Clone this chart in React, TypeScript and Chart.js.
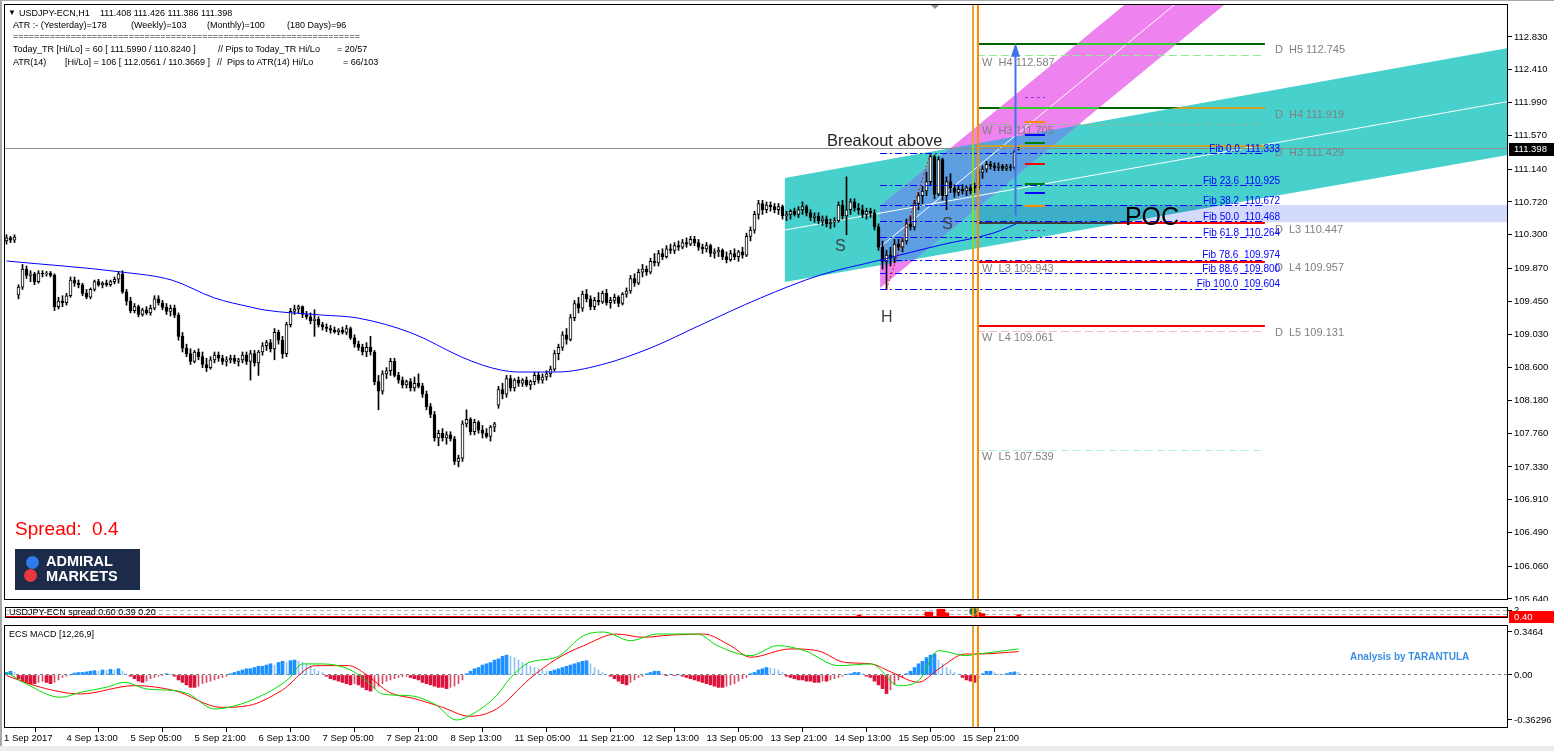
import React, { useEffect, useRef } from "react";
import { Chart, registerables } from "chart.js";

Chart.register(...registerables);

const FONT = "'Liberation Sans', Arial, Helvetica, sans-serif";
Chart.defaults.font.family = FONT;

/* ================= data ================= */
const X_LABELS = ["1 Sep 2017", "4 Sep 13:00", "5 Sep 05:00", "5 Sep 21:00", "6 Sep 13:00", "7 Sep 05:00", "7 Sep 21:00", "8 Sep 13:00", "11 Sep 05:00", "11 Sep 21:00", "12 Sep 13:00", "13 Sep 05:00", "13 Sep 21:00", "14 Sep 13:00", "15 Sep 05:00", "15 Sep 21:00"];
const X_TICK_BARS = [-0.625, 15, 31, 47, 63, 79, 95, 111, 127, 143, 159, 175, 191, 207, 223, 239];
const PRICE_TICKS = [112.83, 112.41, 111.99, 111.57, 111.14, 110.72, 110.3, 109.87, 109.45, 109.03, 108.6, 108.18, 107.76, 107.33, 106.91, 106.49, 106.06, 105.64];

const OPEN = [
  110.22, 110.26, 110.23, 109.53, 109.63, 109.86, 109.78, 109.80, 109.70, 109.81,
  109.80, 109.81, 109.78, 109.38, 109.45, 109.43, 109.52, 109.72, 109.68, 109.66,
  109.55, 109.50, 109.60, 109.70, 109.66, 109.68, 109.66, 109.70, 109.73, 109.80,
  109.57, 109.45, 109.33, 109.38, 109.28, 109.34, 109.30, 109.36, 109.48, 109.43,
  109.37, 109.32, 109.36, 109.27, 109.00, 108.85, 108.78, 108.68, 108.80, 108.74,
  108.64, 108.60, 108.70, 108.76, 108.72, 108.68, 108.70, 108.72, 108.68, 108.70,
  108.76, 108.68, 108.78, 108.66, 108.80, 108.88, 108.92, 108.84, 109.05, 108.95,
  108.78, 109.15, 109.32, 109.35, 109.38, 109.28, 109.25, 109.20, 109.22, 109.15,
  109.12, 109.10, 109.08, 109.06, 109.08, 109.05, 109.10, 108.98, 108.90, 108.86,
  108.80, 108.86, 108.80, 108.42, 108.30, 108.52, 108.56, 108.68, 108.50, 108.44,
  108.38, 108.42, 108.34, 108.40, 108.36, 108.26, 108.10, 108.00, 107.70, 107.76,
  107.70, 107.74, 107.69, 107.40, 107.44, 107.88, 107.94, 107.78, 107.90, 107.80,
  107.76, 107.72, 107.84, 108.12, 108.32, 108.26, 108.46, 108.34, 108.44, 108.40,
  108.44, 108.38, 108.42, 108.50, 108.44, 108.48, 108.52, 108.58, 108.78, 108.86,
  109.02, 108.96, 109.24, 109.42, 109.36, 109.54, 109.48, 109.38, 109.46, 109.44,
  109.55, 109.43, 109.46, 109.50, 109.42, 109.54, 109.58, 109.74, 109.68, 109.82,
  109.86, 109.82, 109.96, 109.94, 110.06, 110.02, 110.12, 110.10, 110.16, 110.14,
  110.20, 110.18, 110.24, 110.20, 110.14, 110.12, 110.16, 110.06, 110.08, 110.10,
  110.02, 109.98, 110.06, 110.02, 110.08, 110.04, 110.28, 110.36, 110.56, 110.70,
  110.62, 110.68, 110.66, 110.62, 110.66, 110.54, 110.56, 110.60, 110.56, 110.62,
  110.66, 110.58, 110.52, 110.54, 110.48, 110.50, 110.44, 110.46, 110.48, 110.68,
  110.54, 110.62, 110.72, 110.64, 110.62, 110.56, 110.60, 110.58, 110.40, 110.14,
  109.96, 110.04, 110.00, 110.18, 110.14, 110.22, 110.44, 110.40, 110.70, 110.80,
  110.86, 110.98, 111.30, 110.82, 111.26, 110.80, 110.98, 110.90, 110.84, 110.88,
  110.86, 110.90, 110.92, 110.90, 111.10, 111.14, 111.20, 111.18, 111.16, 111.18,
  111.15, 111.17, 111.16, 111.408,
];
const HIGH = [
  110.30, 110.28, 110.30, 109.66, 109.92, 109.90, 109.84, 109.82, 109.84, 109.84,
  109.83, 109.83, 109.80, 109.50, 109.52, 109.55, 109.76, 109.76, 109.72, 109.68,
  109.60, 109.62, 109.72, 109.73, 109.70, 109.72, 109.72, 109.76, 109.83, 109.84,
  109.60, 109.50, 109.42, 109.40, 109.36, 109.38, 109.40, 109.52, 109.52, 109.46,
  109.42, 109.40, 109.40, 109.30, 109.05, 108.90, 108.84, 108.82, 108.84, 108.80,
  108.72, 108.74, 108.80, 108.80, 108.76, 108.74, 108.76, 108.76, 108.72, 108.80,
  108.80, 108.82, 108.82, 108.82, 108.92, 108.95, 108.96, 109.10, 109.08, 109.00,
  109.18, 109.36, 109.40, 109.40, 109.39, 109.32, 109.30, 109.34, 109.25, 109.18,
  109.16, 109.14, 109.12, 109.10, 109.12, 109.14, 109.12, 109.02, 108.94, 108.90,
  108.92, 109.00, 108.82, 108.50, 108.56, 108.60, 108.72, 108.72, 108.54, 108.48,
  108.44, 108.46, 108.48, 108.52, 108.40, 108.30, 108.14, 108.04, 107.80, 107.82,
  107.78, 107.78, 107.72, 107.48, 107.92, 108.06, 107.96, 107.94, 107.92, 107.86,
  107.82, 107.86, 107.90, 108.36, 108.40, 108.50, 108.50, 108.46, 108.48, 108.46,
  108.48, 108.44, 108.54, 108.54, 108.52, 108.56, 108.62, 108.82, 108.90, 109.06,
  109.10, 109.28, 109.46, 109.50, 109.58, 109.60, 109.52, 109.50, 109.56, 109.58,
  109.60, 109.50, 109.54, 109.52, 109.56, 109.62, 109.78, 109.80, 109.86, 109.92,
  109.90, 110.00, 110.06, 110.10, 110.12, 110.16, 110.18, 110.20, 110.22, 110.24,
  110.26, 110.28, 110.28, 110.24, 110.18, 110.20, 110.18, 110.12, 110.14, 110.12,
  110.08, 110.10, 110.12, 110.10, 110.14, 110.32, 110.40, 110.60, 110.74, 110.74,
  110.72, 110.72, 110.70, 110.70, 110.68, 110.60, 110.62, 110.64, 110.66, 110.72,
  110.68, 110.62, 110.58, 110.58, 110.54, 110.54, 110.50, 110.52, 110.72, 110.74,
  111.04, 110.76, 110.76, 110.70, 110.68, 110.64, 110.64, 110.62, 110.44, 110.22,
  110.10, 110.14, 110.24, 110.24, 110.26, 110.50, 110.54, 110.74, 110.84, 110.92,
  111.10, 111.33, 111.32, 111.30, 111.28, 111.04, 111.08, 110.94, 110.92, 110.94,
  110.92, 110.94, 110.96, 111.14, 111.18, 111.24, 111.24, 111.22, 111.22, 111.20,
  111.20, 111.20, 111.38, 111.426,
];
const LOW = [
  110.18, 110.20, 110.20, 109.48, 109.60, 109.74, 109.70, 109.66, 109.68, 109.76,
  109.77, 109.76, 109.33, 109.35, 109.38, 109.40, 109.50, 109.64, 109.62, 109.52,
  109.48, 109.48, 109.58, 109.64, 109.62, 109.64, 109.64, 109.67, 109.68, 109.55,
  109.40, 109.30, 109.30, 109.25, 109.26, 109.28, 109.27, 109.34, 109.40, 109.34,
  109.28, 109.26, 109.24, 108.95, 108.80, 108.74, 108.64, 108.66, 108.70, 108.60,
  108.55, 108.58, 108.66, 108.68, 108.64, 108.62, 108.66, 108.65, 108.62, 108.66,
  108.64, 108.44, 108.62, 108.50, 108.76, 108.82, 108.80, 108.70, 108.90, 108.72,
  108.74, 109.12, 109.28, 109.30, 109.24, 109.22, 109.16, 109.00, 109.12, 109.08,
  109.06, 109.04, 109.04, 109.02, 109.03, 109.02, 108.96, 108.86, 108.82, 108.76,
  108.74, 108.76, 108.38, 108.06, 108.26, 108.46, 108.50, 108.48, 108.40, 108.34,
  108.34, 108.30, 108.30, 108.34, 108.22, 108.06, 107.96, 107.66, 107.60, 107.66,
  107.62, 107.66, 107.36, 107.33, 107.40, 107.84, 107.74, 107.74, 107.76, 107.70,
  107.70, 107.66, 107.78, 108.08, 108.20, 108.22, 108.30, 108.30, 108.36, 108.36,
  108.36, 108.32, 108.38, 108.40, 108.40, 108.44, 108.48, 108.56, 108.70, 108.82,
  108.90, 108.94, 109.20, 109.30, 109.32, 109.44, 109.34, 109.34, 109.40, 109.42,
  109.40, 109.36, 109.42, 109.38, 109.40, 109.50, 109.55, 109.64, 109.66, 109.76,
  109.78, 109.80, 109.90, 109.90, 109.98, 110.00, 110.06, 110.06, 110.10, 110.12,
  110.14, 110.16, 110.16, 110.10, 110.06, 110.08, 110.02, 110.00, 110.02, 109.98,
  109.94, 109.96, 109.98, 109.96, 110.00, 110.02, 110.22, 110.32, 110.50, 110.56,
  110.58, 110.60, 110.58, 110.56, 110.50, 110.48, 110.50, 110.54, 110.52, 110.56,
  110.54, 110.48, 110.46, 110.44, 110.42, 110.40, 110.38, 110.40, 110.46, 110.50,
  110.30, 110.56, 110.60, 110.56, 110.52, 110.50, 110.52, 110.36, 110.10, 109.86,
  109.60, 109.90, 109.94, 110.10, 110.08, 110.18, 110.36, 110.36, 110.62, 110.70,
  110.80, 110.94, 110.76, 110.80, 110.74, 110.62, 110.84, 110.78, 110.80, 110.82,
  110.80, 110.82, 110.84, 110.88, 111.02, 111.10, 111.14, 111.12, 111.12, 111.12,
  111.12, 111.12, 111.14, 111.386,
];
const CLOSE = [
  110.26, 110.23, 110.27, 109.63, 109.86, 109.78, 109.80, 109.70, 109.81, 109.80,
  109.81, 109.78, 109.38, 109.45, 109.43, 109.52, 109.72, 109.68, 109.66, 109.55,
  109.50, 109.60, 109.70, 109.66, 109.68, 109.66, 109.70, 109.73, 109.80, 109.57,
  109.45, 109.33, 109.38, 109.28, 109.34, 109.30, 109.36, 109.48, 109.43, 109.37,
  109.32, 109.36, 109.27, 109.00, 108.85, 108.78, 108.68, 108.80, 108.74, 108.64,
  108.60, 108.70, 108.76, 108.72, 108.68, 108.70, 108.72, 108.68, 108.70, 108.76,
  108.68, 108.78, 108.66, 108.80, 108.88, 108.92, 108.84, 109.05, 108.95, 108.78,
  109.15, 109.32, 109.35, 109.38, 109.28, 109.25, 109.20, 109.22, 109.15, 109.12,
  109.10, 109.08, 109.06, 109.08, 109.05, 109.10, 108.98, 108.90, 108.86, 108.80,
  108.86, 108.80, 108.42, 108.30, 108.52, 108.56, 108.68, 108.50, 108.44, 108.38,
  108.42, 108.34, 108.40, 108.36, 108.26, 108.10, 108.00, 107.70, 107.76, 107.70,
  107.74, 107.69, 107.40, 107.44, 107.88, 107.94, 107.78, 107.90, 107.80, 107.76,
  107.72, 107.84, 107.88, 108.32, 108.26, 108.46, 108.34, 108.44, 108.40, 108.44,
  108.38, 108.42, 108.50, 108.44, 108.48, 108.52, 108.58, 108.78, 108.86, 109.02,
  108.96, 109.24, 109.42, 109.36, 109.54, 109.48, 109.38, 109.46, 109.44, 109.55,
  109.43, 109.46, 109.50, 109.42, 109.54, 109.58, 109.74, 109.68, 109.82, 109.86,
  109.82, 109.96, 109.94, 110.06, 110.02, 110.12, 110.10, 110.16, 110.14, 110.20,
  110.18, 110.24, 110.20, 110.14, 110.12, 110.16, 110.06, 110.08, 110.10, 110.02,
  109.98, 110.06, 110.02, 110.08, 110.04, 110.28, 110.36, 110.56, 110.70, 110.62,
  110.68, 110.66, 110.62, 110.66, 110.54, 110.56, 110.60, 110.56, 110.62, 110.66,
  110.58, 110.52, 110.54, 110.48, 110.50, 110.44, 110.46, 110.48, 110.68, 110.54,
  110.62, 110.72, 110.64, 110.62, 110.56, 110.60, 110.58, 110.40, 110.14, 109.96,
  110.04, 110.00, 110.18, 110.14, 110.22, 110.44, 110.40, 110.70, 110.80, 110.86,
  110.98, 111.30, 110.82, 111.26, 110.80, 110.98, 110.90, 110.84, 110.88, 110.86,
  110.90, 110.86, 110.90, 111.10, 111.14, 111.20, 111.18, 111.16, 111.18, 111.15,
  111.17, 111.16, 111.36, 111.398,
];

// moving average (blue), read at bar positions
const MA_X = [0, 28.75, 41.25, 52, 61, 64.5, 78.75, 87.75, 101.25, 113.75, 118.9, 123.5, 128, 137.75, 148.5, 161, 173.5, 188.5, 203.5, 218.5, 233.5, 246.75, 253.5];
const MA_Y = [109.964, 109.823, 109.721, 109.491, 109.375, 109.337, 109.273, 109.235, 109.043, 108.736, 108.634, 108.570, 108.544, 108.544, 108.634, 108.851, 109.145, 109.491, 109.785, 109.977, 110.169, 110.322, 110.463];

// channels (bar index, price)
const CYAN_I = [194.6, 375.4];
const CYAN_TOP = [111.026, 112.689];
const CYAN_BOT = [109.695, 111.32];
const MAG_I = [218.4, 375.4];
const MAG_LOW = [109.619, 116.23];
const MAG_UP = [110.668, 117.28];
const POC_I = 242.6;
const POC_P = [110.46, 110.68];

// pivot levels
const PIVOT_NAMES = ["W  H4", "W  H3", "W  L3", "W  L4", "W  L5", "D  H5", "D  H4", "D  H3", "D  L3", "D  L4", "D  L5"];
const PIVOT_VALUES = [112.587, 111.705, 109.943, 109.061, 107.539, 112.745, 111.919, 111.429, 110.447, 109.957, 109.131];
const PIVOT_SPAN = [242.6, 314.6];

// fibonacci
const FIB_LEVELS = ["0.0", "23.6", "38.2", "50.0", "61.8", "78.6", "88.6", "100.0"];
const FIB_PRICES = [111.333, 110.925, 110.672, 110.468, 110.264, 109.974, 109.8, 109.604];
const FIB_SPAN = [218.4, 314.6];
const FIB_ANCHOR_I = [220, 231];
const FIB_ANCHOR_P = [109.604, 111.333];

// short level markers
const SHORT_P = [112.05, 111.74, 111.58, 111.47, 111.21, 110.95, 110.83, 110.67, 110.36];
const SHORT_SPAN = [254.6, 259.6];

const ARROW_I = 252.1;
const ARROW_P = [110.55, 112.73];

const NOTE_TEXT = ["Breakout above", "S", "S", "H", "POC"];
const NOTE_I = [205.1, 207.1, 233.9, 218.6, 279.6];
const NOTE_P = [111.435, 110.092, 110.374, 109.184, 110.425];

const VLINES = [241.6, 242.9];

// spread window
const SPREAD_X = [213, 230, 231, 233, 234, 235, 242, 243, 244, 253];
const SPREAD_V = [0.8, 1.6, 1.6, 2.4, 2.4, 1.4, 1.5, 1.5, 1.2, 0.9];
const SPREAD_LEVELS = [2, 1];
const SPREAD_NOW = 0.4;
const SPREAD_DOT = [241.6, 1.8];

// MACD window
const HIST = [
  0.02, 0.03, 0.02, -0.03, -0.05, -0.06, -0.07, -0.07, -0.06, -0.05,
  -0.06, -0.07, -0.06, -0.04, -0.02, -0.01, 0, 0.015, 0.02, 0.02,
  0.025, 0.03, 0.035, 0.03, 0.04, 0.035, 0.045, 0.04, 0.05, 0.03,
  0.01, -0.01, -0.03, -0.05, -0.06, -0.05, -0.03, -0.02, -0.01, -0.005,
  0.01, 0.005, -0.01, -0.04, -0.06, -0.08, -0.1, -0.1, -0.09, -0.07,
  -0.06, -0.05, -0.04, -0.03, -0.02, -0.01, 0.01, 0.02, 0.03, 0.04,
  0.05, 0.05, 0.06, 0.07, 0.07, 0.08, 0.09, 0.08, 0.1, 0.11,
  0.1, 0.115, 0.12, 0.11, 0.1, 0.09, 0.07, 0.05, 0.03, 0.02,
  -0.01, -0.03, -0.04, -0.05, -0.06, -0.07, -0.08, -0.07, -0.08, -0.1,
  -0.12, -0.13, -0.11, -0.09, -0.07, -0.05, -0.04, -0.03, -0.02, -0.015,
  -0.01, -0.02, -0.03, -0.04, -0.06, -0.07, -0.08, -0.09, -0.1, -0.1,
  -0.11, -0.1, -0.09, -0.07, -0.04, 0.01, 0.03, 0.05, 0.06, 0.08,
  0.09, 0.1, 0.12, 0.13, 0.15, 0.16, 0.15, 0.14, 0.12, 0.1,
  0.09, 0.07, 0.06, 0.05, 0.04, 0.03, 0.03, 0.04, 0.05, 0.06,
  0.07, 0.08, 0.09, 0.1, 0.11, 0.115, 0.09, 0.06, 0.04, 0.02,
  0.005, -0.01, -0.03, -0.05, -0.07, -0.08, -0.06, -0.04, -0.02, -0.01,
  0.01, 0.02, 0.03, 0.03, 0.01, -0.005, 0.005, -0.005, 0, -0.01,
  -0.02, -0.03, -0.04, -0.05, -0.06, -0.07, -0.08, -0.09, -0.1, -0.1,
  -0.09, -0.08, -0.07, -0.05, -0.03, -0.02, 0.01, 0.02, 0.04, 0.05,
  0.06, 0.055, 0.05, 0.04, 0.02, -0.01, -0.02, -0.03, -0.04, -0.04,
  -0.05, -0.05, -0.06, -0.06, -0.05, -0.05, -0.04, -0.03, -0.02, -0.01,
  0.005, 0.01, 0.02, 0.02, 0.01, -0.01, -0.02, -0.05, -0.08, -0.11,
  -0.15, -0.12, -0.08, -0.04, -0.02, 0.01, 0.03, 0.06, 0.09, 0.11,
  0.14, 0.16, 0.17, 0.12, 0.09, 0.06, 0.04, 0.02, 0.01, -0.02,
  -0.04, -0.05, -0.06, -0.03, 0.01, 0.03, 0.03, 0.02, 0.01, 0.005,
  0.01, 0.02, 0.025, 0.02,
];
const MACD_X = [0, 5, 13.5, 18.5, 25, 29.5, 35, 42, 45.5, 52, 55.5, 62, 70.5, 74, 79, 85.5, 90, 94, 100.75, 107, 112.5, 115.75, 122.5, 125.75, 130.75, 137.5, 144.25, 149.25, 156, 162.75, 172.75, 177.75, 186, 192.75, 199.5, 208, 216.25, 223, 228, 233, 239.75, 243, 253];
const MACD_V = [0.022, -0.073, -0.18, -0.14, -0.099, -0.059, -0.113, -0.126, -0.153, -0.274, -0.261, -0.193, -0.032, 0.089, 0.089, 0.048, -0.046, -0.153, -0.167, -0.234, -0.363, -0.328, -0.167, -0.032, 0.102, 0.143, 0.317, 0.346, 0.277, 0.33, 0.33, 0.236, 0.156, 0.236, 0.196, 0.075, 0.089, -0.086, -0.046, 0.196, 0.156, 0.169, 0.21];
const SIG_X = [0, 8.5, 18.5, 32, 42, 53.75, 60.5, 68.75, 77.25, 85.5, 89.75, 95.75, 102.25, 109, 115.75, 122.5, 130.75, 137.5, 144.25, 152.5, 159.25, 166, 174.25, 181, 186, 196, 202.75, 209.5, 216.25, 221.25, 228, 233, 239.75, 243, 253];
const SIG_V = [-0.005, -0.099, -0.153, -0.086, -0.126, -0.261, -0.247, -0.126, 0.075, 0.075, 0.008, -0.14, -0.193, -0.261, -0.333, -0.274, -0.032, 0.129, 0.236, 0.33, 0.304, 0.322, 0.33, 0.236, 0.143, 0.21, 0.196, 0.102, 0.089, 0.022, -0.059, 0.048, 0.169, 0.169, 0.188];
const MACD_TICKS = [0.3464, 0, -0.36296];
const MACD_TICK_LABELS = ["0.3464", "0.00", "-0.36296"];

/* ================= scale ranges ================= */
const X_MIN = -0.625;
const X_MAX = 375.375;
const PRICE_MIN = 105.627;
const PRICE_MAX = 113.252;
const LAST_PRICE = CLOSE[CLOSE.length - 1];

/* ================= helpers ================= */
function hline(ctx, x1, x2, y, color, width, dash?) {
  ctx.save();
  ctx.strokeStyle = color;
  ctx.lineWidth = width;
  ctx.setLineDash(dash || []);
  const yy = width % 2 === 1 ? Math.round(y - 0.5) + 0.5 : Math.round(y);
  ctx.beginPath();
  ctx.moveTo(x1, yy);
  ctx.lineTo(x2, yy);
  ctx.stroke();
  ctx.restore();
}

function clipArea(ctx, a) {
  ctx.beginPath();
  ctx.rect(a.left, a.top, a.right - a.left, a.bottom - a.top);
  ctx.clip();
}

function makePaths(chart) {
  const { ctx, scales } = chart;
  const X = (v) => scales.x.getPixelForValue(v);
  const Y = (v) => scales.y.getPixelForValue(v);
  const quad = (i, p1, p2) => {
    ctx.beginPath();
    ctx.moveTo(X(i[0]), Y(p1[0]));
    ctx.lineTo(X(i[1]), Y(p1[1]));
    ctx.lineTo(X(i[1]), Y(p2[1]));
    ctx.lineTo(X(i[0]), Y(p2[0]));
    ctx.closePath();
  };
  return {
    X,
    Y,
    cyan: () => quad(CYAN_I, CYAN_TOP, CYAN_BOT),
    mag: () => quad(MAG_I, MAG_LOW, MAG_UP),
  };
}

const framePlugin = {
  id: "frame",
  afterDraw(chart) {
    const { ctx, chartArea: a } = chart;
    ctx.save();
    ctx.strokeStyle = "#000";
    ctx.lineWidth = 1;
    ctx.strokeRect(a.left + 0.5, a.top + 0.5, a.right - a.left - 1, a.bottom - a.top - 1);
    ctx.restore();
  },
};

const vlinePlugin = {
  id: "vlines",
  afterDatasetsDraw(chart) {
    const { ctx, chartArea: a, scales } = chart;
    ctx.save();
    VLINES.forEach((v, k) => {
      const x = Math.round(scales.x.getPixelForValue(v));
      ctx.fillStyle = k === 0 ? "#EBA233" : "#FF8C00";
      ctx.fillRect(x - 1, a.top, 2, a.bottom - a.top);
    });
    ctx.restore();
  },
};

function pivotStyle(name) {
  if (name[0] === "D") {
    return name.includes("H")
      ? { base: "#006400", mag: "#32CD32", cyan: "#C9A227" }
      : { base: "#FF0000", mag: null, cyan: "#3C3C3C" };
  }
  const map = { "W  H4": "#90EE90", "W  H3": "#8FB88F", "W  L3": "#F4A0A0", "W  L4": "#F7B8B8", "W  L5": "#AFEEEE" };
  return { base: map[name], mag: null, cyan: null };
}

const SHORT_COLORS = ["#9932CC", "#FF8C00", "#0000FF", "#008000", "#FF0000", "#008000", "#0000FF", "#FF8C00", "#9932CC"];

const mainPlugin = {
  id: "mainDecor",
  beforeDatasetsDraw(chart) {
    const { ctx, chartArea: a } = chart;
    const P = makePaths(chart);
    ctx.save();
    clipArea(ctx, a);
    P.cyan();
    ctx.fillStyle = "#48D1CC";
    ctx.fill();
    P.mag();
    ctx.fillStyle = "#EE82EE";
    ctx.fill();
    ctx.save();
    P.cyan();
    ctx.clip();
    P.mag();
    ctx.fillStyle = "#5D9FE0";
    ctx.fill();
    ctx.restore();
    // POC band
    const bx = P.X(POC_I);
    const by1 = P.Y(POC_P[1]);
    const by2 = P.Y(POC_P[0]);
    ctx.fillStyle = "#D3DAFB";
    ctx.fillRect(bx, by1, a.right - bx, by2 - by1);
    ctx.save();
    P.cyan();
    ctx.clip();
    ctx.fillStyle = "#3DAEC8";
    ctx.fillRect(bx, by1, a.right - bx, by2 - by1);
    ctx.restore();
    // channel centre lines
    ctx.strokeStyle = "#FFFFFF";
    ctx.lineWidth = 1;
    ctx.beginPath();
    ctx.moveTo(P.X(CYAN_I[0]), P.Y((CYAN_TOP[0] + CYAN_BOT[0]) / 2));
    ctx.lineTo(P.X(CYAN_I[1]), P.Y((CYAN_TOP[1] + CYAN_BOT[1]) / 2));
    ctx.stroke();
    ctx.beginPath();
    ctx.moveTo(P.X(MAG_I[0]), P.Y((MAG_LOW[0] + MAG_UP[0]) / 2));
    ctx.lineTo(P.X(MAG_I[1]), P.Y((MAG_LOW[1] + MAG_UP[1]) / 2));
    ctx.stroke();
    ctx.restore();
  },
  afterDatasetsDraw(chart) {
    const { ctx, chartArea: a } = chart;
    const P = makePaths(chart);
    ctx.save();
    clipArea(ctx, a);

    // bid line
    hline(ctx, a.left, a.right, P.Y(LAST_PRICE), "#8C8C8C", 1);

    // fib lines
    const fx1 = P.X(FIB_SPAN[0]);
    const fx2 = P.X(FIB_SPAN[1]);
    FIB_PRICES.forEach((p) => hline(ctx, fx1, fx2, P.Y(p), "#0000FF", 1, [7, 3, 2, 3]));

    // pivot lines
    const px1 = P.X(PIVOT_SPAN[0]);
    const px2 = P.X(PIVOT_SPAN[1]);
    PIVOT_NAMES.forEach((name, k) => {
      const st = pivotStyle(name);
      const y = P.Y(PIVOT_VALUES[k]);
      if (name[0] === "W") {
        hline(ctx, px1, px2, y, st.base, 1, [8, 4]);
        return;
      }
      hline(ctx, px1, px2, y, st.base, 2);
      if (st.mag) {
        ctx.save();
        P.mag();
        ctx.clip();
        hline(ctx, px1, px2, y, st.mag, 2);
        ctx.restore();
      }
      if (st.cyan) {
        ctx.save();
        P.cyan();
        ctx.clip();
        hline(ctx, px1, px2, y, st.cyan, 2);
        ctx.restore();
      }
    });

    // short level markers
    const sx1 = P.X(SHORT_SPAN[0]);
    const sx2 = P.X(SHORT_SPAN[1]);
    SHORT_P.forEach((p, k) => {
      const dashed = k === 0 || k === SHORT_P.length - 1;
      hline(ctx, sx1, sx2, P.Y(p), SHORT_COLORS[k], dashed ? 1 : 2, dashed ? [3, 3] : []);
    });

    // pivot labels
    ctx.font = `11px ${FONT}`;
    ctx.fillStyle = "#808080";
    ctx.textBaseline = "top";
    ctx.textAlign = "left";
    PIVOT_NAMES.forEach((name, k) => {
      const x = name[0] === "D" ? P.X(317.1) : P.X(243.9);
      ctx.fillText(`${name} ${PIVOT_VALUES[k].toFixed(3)}`, x, P.Y(PIVOT_VALUES[k]) + 1);
    });

    // fib labels
    ctx.font = `10px ${FONT}`;
    ctx.fillStyle = "#0000FF";
    ctx.textAlign = "right";
    ctx.textBaseline = "alphabetic";
    FIB_LEVELS.forEach((lvl, k) => {
      ctx.fillText(`Fib ${lvl}  ${FIB_PRICES[k].toFixed(3)}`, P.X(318.4), P.Y(FIB_PRICES[k]) - 2);
    });

    // fib anchor dotted line
    ctx.save();
    ctx.strokeStyle = "#FF0000";
    ctx.lineWidth = 1;
    ctx.setLineDash([2, 2]);
    ctx.beginPath();
    ctx.moveTo(P.X(FIB_ANCHOR_I[0]), P.Y(FIB_ANCHOR_P[0]));
    ctx.lineTo(P.X(FIB_ANCHOR_I[1]), P.Y(FIB_ANCHOR_P[1]));
    ctx.stroke();
    ctx.restore();

    // arrow
    const ax = Math.round(P.X(ARROW_I)) + 0.5;
    const ay1 = P.Y(ARROW_P[0]);
    const ay2 = P.Y(ARROW_P[1]);
    ctx.strokeStyle = "#4470EE";
    ctx.lineWidth = 2;
    ctx.beginPath();
    ctx.moveTo(ax, ay1);
    ctx.lineTo(ax, ay2 + 8);
    ctx.stroke();
    ctx.fillStyle = "#4470EE";
    ctx.beginPath();
    ctx.moveTo(ax, ay2 - 2);
    ctx.lineTo(ax - 4.5, ay2 + 12);
    ctx.lineTo(ax + 4.5, ay2 + 12);
    ctx.closePath();
    ctx.fill();

    // notes
    ctx.textAlign = "left";
    ctx.textBaseline = "alphabetic";
    NOTE_TEXT.forEach((t, k) => {
      if (t === "POC") {
        ctx.font = `25px ${FONT}`;
        ctx.fillStyle = "#000000";
      } else if (t.length > 1) {
        ctx.font = `16.5px ${FONT}`;
        ctx.fillStyle = "#262626";
      } else {
        ctx.font = `16px ${FONT}`;
        ctx.fillStyle = "#404040";
      }
      ctx.fillText(t, P.X(NOTE_I[k]), P.Y(NOTE_P[k]));
    });

    // vertical separators, green where over the cyan channel
    VLINES.forEach((v, k) => {
      const x = Math.round(P.X(v));
      ctx.fillStyle = k === 0 ? "#EBA233" : "#FF8C00";
      ctx.fillRect(x - 1, a.top, 2, a.bottom - a.top);
      if (k === 0) {
        ctx.save();
        P.cyan();
        ctx.clip();
        ctx.fillStyle = "#8FD629";
        ctx.fillRect(x - 1, a.top, 2, a.bottom - a.top);
        ctx.restore();
      }
    });
    ctx.restore();
  },
  afterDraw(chart) {
    const { ctx, chartArea: a, scales } = chart;
    const y = Math.round(scales.y.getPixelForValue(LAST_PRICE));
    ctx.save();
    ctx.fillStyle = "#000";
    ctx.fillRect(a.right + 1, y - 6, 45, 13);
    ctx.fillStyle = "#fff";
    ctx.font = `9.5px ${FONT}`;
    ctx.textBaseline = "middle";
    ctx.textAlign = "left";
    ctx.fillText(LAST_PRICE.toFixed(3), a.right + 6, y + 0.5);
    // chart shift marker
    ctx.fillStyle = "#8C8C8C";
    ctx.beginPath();
    ctx.moveTo(930, a.top);
    ctx.lineTo(940, a.top);
    ctx.lineTo(935, a.top + 5);
    ctx.closePath();
    ctx.fill();
    ctx.restore();
  },
};

const spreadPlugin = {
  id: "spreadDecor",
  beforeDatasetsDraw(chart) {
    const { ctx, chartArea: a, scales } = chart;
    SPREAD_LEVELS.forEach((v) => hline(ctx, a.left, a.right, scales.y.getPixelForValue(v), "#B4B4B4", 1, [4, 3]));
  },
  afterDatasetsDraw(chart) {
    const { ctx, chartArea: a, scales } = chart;
    hline(ctx, a.left, a.right, scales.y.getPixelForValue(SPREAD_NOW), "#FF0000", 1);
  },
  afterDraw(chart) {
    const { ctx, chartArea: a, scales } = chart;
    const y = Math.round(scales.y.getPixelForValue(SPREAD_NOW));
    ctx.save();
    ctx.fillStyle = "#FF0000";
    ctx.fillRect(a.right + 1, y - 6, 45, 12);
    ctx.fillStyle = "#fff";
    ctx.font = `9.5px ${FONT}`;
    ctx.textBaseline = "middle";
    ctx.fillText(SPREAD_NOW.toFixed(2), a.right + 6, y);
    ctx.restore();
  },
};

const macdPlugin = {
  id: "macdDecor",
  beforeDatasetsDraw(chart) {
    const { ctx, chartArea: a, scales } = chart;
    hline(ctx, a.left, a.right, scales.y.getPixelForValue(0), "#808080", 1, [3, 3]);
  },
};

/* ================= configs ================= */
const tickFont = { size: 9.5, family: FONT };

function xScale(show) {
  return {
    type: "linear",
    min: X_MIN,
    max: X_MAX,
    offset: false,
    display: show,
    grid: { drawOnChartArea: false, drawTicks: true, tickLength: 4, color: "#000" },
    border: { display: false },
    afterBuildTicks: (s) => {
      s.ticks = X_TICK_BARS.map((v) => ({ value: v }));
    },
    ticks: {
      autoSkip: false,
      maxRotation: 0,
      minRotation: 0,
      align: "start",
      padding: 1,
      color: "#000",
      font: tickFont,
      callback: (_v, idx) => X_LABELS[idx],
    },
    afterFit: (s) => {
      if (show) s.height = 17;
      s.paddingLeft = 0;
      s.paddingRight = 0;
    },
  };
}

function yScale(min, max, ticks, labels) {
  return {
    type: "linear",
    position: "right",
    min,
    max,
    grid: { drawOnChartArea: false, drawTicks: true, tickLength: 4, color: "#000" },
    border: { display: false },
    afterBuildTicks: (s) => {
      s.ticks = ticks.map((v) => ({ value: v }));
    },
    ticks: { padding: 2, color: "#000", font: tickFont, callback: (v, idx) => labels(v, idx) },
    afterFit: (s) => {
      s.width = 46;
      s.paddingTop = 0;
      s.paddingBottom = 0;
    },
  };
}

const baseOptions = (padding, scales) => ({
  responsive: false,
  maintainAspectRatio: false,
  animation: false,
  events: [],
  layout: { padding },
  plugins: { legend: { display: false }, tooltip: { enabled: false } },
  scales,
});

function mainConfig() {
  const bodies = OPEN.map((o, i) => ({ x: i, y: [o, CLOSE[i]] }));
  const wicks = LOW.map((l, i) => ({ x: i, y: [l, HIGH[i]] }));
  return {
    type: "bar",
    data: {
      datasets: [
        {
          type: "line",
          data: MA_X.map((x, k) => ({ x, y: MA_Y[k] })),
          borderColor: "#0000FF",
          borderWidth: 1,
          pointRadius: 0,
          cubicInterpolationMode: "monotone",
          order: 0,
        },
        {
          type: "bar",
          data: bodies,
          backgroundColor: CLOSE.map((c, i) => (c >= OPEN[i] ? "#FFFFFF" : "#000000")),
          borderColor: "#000000",
          borderWidth: 1,
          borderSkipped: false,
          barThickness: 3,
          grouped: false,
          order: 1,
        },
        {
          type: "bar",
          data: wicks,
          backgroundColor: "#000000",
          borderWidth: 0,
          barThickness: 1,
          grouped: false,
          order: 2,
        },
      ],
    },
    options: baseOptions(
      { left: 4, top: 4, right: 0, bottom: 1 },
      {
        x: xScale(false),
        y: yScale(PRICE_MIN, PRICE_MAX, PRICE_TICKS, (v) => Number(v).toFixed(3)),
      }
    ),
    plugins: [mainPlugin, framePlugin],
  };
}

function spreadConfig() {
  return {
    type: "bar",
    data: {
      datasets: [
        {
          type: "line",
          data: [{ x: SPREAD_DOT[0], y: SPREAD_DOT[1] }],
          showLine: false,
          pointRadius: 4,
          pointBackgroundColor: "#2C6B2C",
          pointBorderColor: "#86B486",
          pointBorderWidth: 1,
          order: 0,
        },
        {
          type: "bar",
          data: SPREAD_X.map((x, k) => ({ x, y: SPREAD_V[k] })),
          backgroundColor: "#FF0000",
          barThickness: 4,
          grouped: false,
          order: 1,
        },
      ],
    },
    options: baseOptions(
      { left: 4, top: 1, right: 0, bottom: 1 },
      { x: xScale(false), y: yScale(0, 3, [2], (v) => String(v)) }
    ),
    plugins: [spreadPlugin, vlinePlugin, framePlugin],
  };
}

function macdConfig() {
  const thick = [];
  const thin = [];
  HIST.forEach((h, i) => {
    const prev = i > 0 ? HIST[i - 1] : 0;
    const grow = Math.abs(h) >= Math.abs(prev) || Math.sign(h) !== Math.sign(prev);
    (grow ? thick : thin).push({ x: i, y: h });
  });
  return {
    type: "bar",
    data: {
      datasets: [
        {
          type: "line",
          data: MACD_X.map((x, k) => ({ x, y: MACD_V[k] })),
          borderColor: "#00DD00",
          borderWidth: 1,
          pointRadius: 0,
          cubicInterpolationMode: "monotone",
          order: 0,
        },
        {
          type: "line",
          data: SIG_X.map((x, k) => ({ x, y: SIG_V[k] })),
          borderColor: "#FF0000",
          borderWidth: 1,
          pointRadius: 0,
          cubicInterpolationMode: "monotone",
          order: 1,
        },
        {
          type: "bar",
          data: thick,
          backgroundColor: (c) => (c.raw && c.raw.y >= 0 ? "#1E90FF" : "#DC143C"),
          barThickness: 3,
          grouped: false,
          order: 2,
        },
        {
          type: "bar",
          data: thin,
          backgroundColor: (c) => (c.raw && c.raw.y >= 0 ? "#8EC2F2" : "#D24A66"),
          barThickness: 1,
          grouped: false,
          order: 3,
        },
      ],
    },
    options: baseOptions(
      { left: 4, top: 1, right: 0, bottom: 6 },
      {
        x: xScale(true),
        y: yScale(-0.4275, 0.4028, MACD_TICKS, (_v, idx) => MACD_TICK_LABELS[idx]),
      }
    ),
    plugins: [macdPlugin, vlinePlugin, framePlugin],
  };
}

/* ================= component ================= */
const small = { position: "absolute", font: `9px ${FONT}`, color: "#000", whiteSpace: "pre", lineHeight: "12px" } as const;

export default function App() {
  const mainRef = useRef<HTMLCanvasElement>(null);
  const spreadRef = useRef<HTMLCanvasElement>(null);
  const macdRef = useRef<HTMLCanvasElement>(null);

  useEffect(() => {
    document.body.style.margin = "0";
    const charts = [
      new Chart(mainRef.current as HTMLCanvasElement, mainConfig() as any),
      new Chart(spreadRef.current as HTMLCanvasElement, spreadConfig() as any),
      new Chart(macdRef.current as HTMLCanvasElement, macdConfig() as any),
    ];
    return () => charts.forEach((c) => c.destroy());
  }, []);

  return (
    <div style={{ position: "relative", width: 1554, height: 751, background: "#fff", overflow: "hidden", fontFamily: FONT }}>
      <canvas ref={mainRef} width={1554} height={601} style={{ position: "absolute", left: 0, top: 0, width: 1554, height: 601 }} />
      <canvas ref={spreadRef} width={1554} height={21} style={{ position: "absolute", left: 0, top: 602, width: 1554, height: 21 }} />
      <canvas ref={macdRef} width={1554} height={127} style={{ position: "absolute", left: 0, top: 624, width: 1554, height: 127 }} />

      <div style={{ position: "absolute", left: 0, top: 0, width: 2, height: 751, background: "#A8A8A8" }} />
      <div style={{ position: "absolute", left: 0, top: 0, width: 1554, height: 1, background: "#A8A8A8" }} />
      <div style={{ position: "absolute", left: 0, top: 746, width: 1554, height: 5, background: "#ECECEC" }} />

      {/* info block */}
      <div style={{ ...small, left: 8, top: 6.5, fontSize: 8 }}>▼</div>
      <div style={{ ...small, left: 19, top: 6.5 }}>USDJPY-ECN,H1</div>
      <div style={{ ...small, left: 100, top: 6.5 }}>111.408 111.426 111.386 111.398</div>
      <div style={{ ...small, left: 13, top: 18.5 }}>ATR :- (Yesterday)=178</div>
      <div style={{ ...small, left: 131, top: 18.5 }}>(Weekly)=103</div>
      <div style={{ ...small, left: 207, top: 18.5 }}>(Monthly)=100</div>
      <div style={{ ...small, left: 287, top: 18.5 }}>(180 Days)=96</div>
      <div style={{ ...small, left: 13, top: 30 }}>{"=".repeat(66)}</div>
      <div style={{ ...small, left: 13, top: 43 }}>Today_TR [Hi/Lo] = 60 [ 111.5990 / 110.8240 ]</div>
      <div style={{ ...small, left: 218, top: 43 }}>// Pips to Today_TR Hi/Lo</div>
      <div style={{ ...small, left: 337, top: 43 }}>= 20/57</div>
      <div style={{ ...small, left: 13, top: 55.5 }}>ATR(14)</div>
      <div style={{ ...small, left: 65, top: 55.5 }}>[Hi/Lo] = 106 [ 112.0561 / 110.3669 ]</div>
      <div style={{ ...small, left: 217, top: 55.5 }}>//  Pips to ATR(14) Hi/Lo</div>
      <div style={{ ...small, left: 343, top: 55.5 }}>= 66/103</div>

      {/* spread + logo */}
      <div style={{ position: "absolute", left: 15, top: 518, font: `19px ${FONT}`, color: "#FF0000", whiteSpace: "pre" }}>Spread:  0.4</div>
      <div style={{ position: "absolute", left: 15, top: 549, width: 125, height: 41, background: "#1C2B4A" }}>
        <div style={{ position: "absolute", left: 11, top: 7, width: 13, height: 13, borderRadius: "50%", background: "#2B7BEA" }} />
        <div style={{ position: "absolute", left: 9, top: 20, width: 13, height: 13, borderRadius: "50%", background: "#E8383D" }} />
        <div style={{ position: "absolute", left: 31, top: 5, font: `bold 14.5px ${FONT}`, color: "#fff", lineHeight: "15px" }}>ADMIRAL</div>
        <div style={{ position: "absolute", left: 31, top: 20, font: `bold 14.5px ${FONT}`, color: "#fff", lineHeight: "15px" }}>MARKETS</div>
      </div>

      {/* sub-window titles */}
      <div style={{ ...small, left: 9, top: 606 }}>USDJPY-ECN spread 0.60 0.39 0.20</div>
      <div style={{ ...small, left: 9, top: 628 }}>ECS MACD [12,26,9]</div>
      <div style={{ position: "absolute", left: 1350, top: 651, font: `bold 10px ${FONT}`, color: "#3D8FE0", whiteSpace: "pre" }}>Analysis by TARANTULA</div>
    </div>
  );
}
